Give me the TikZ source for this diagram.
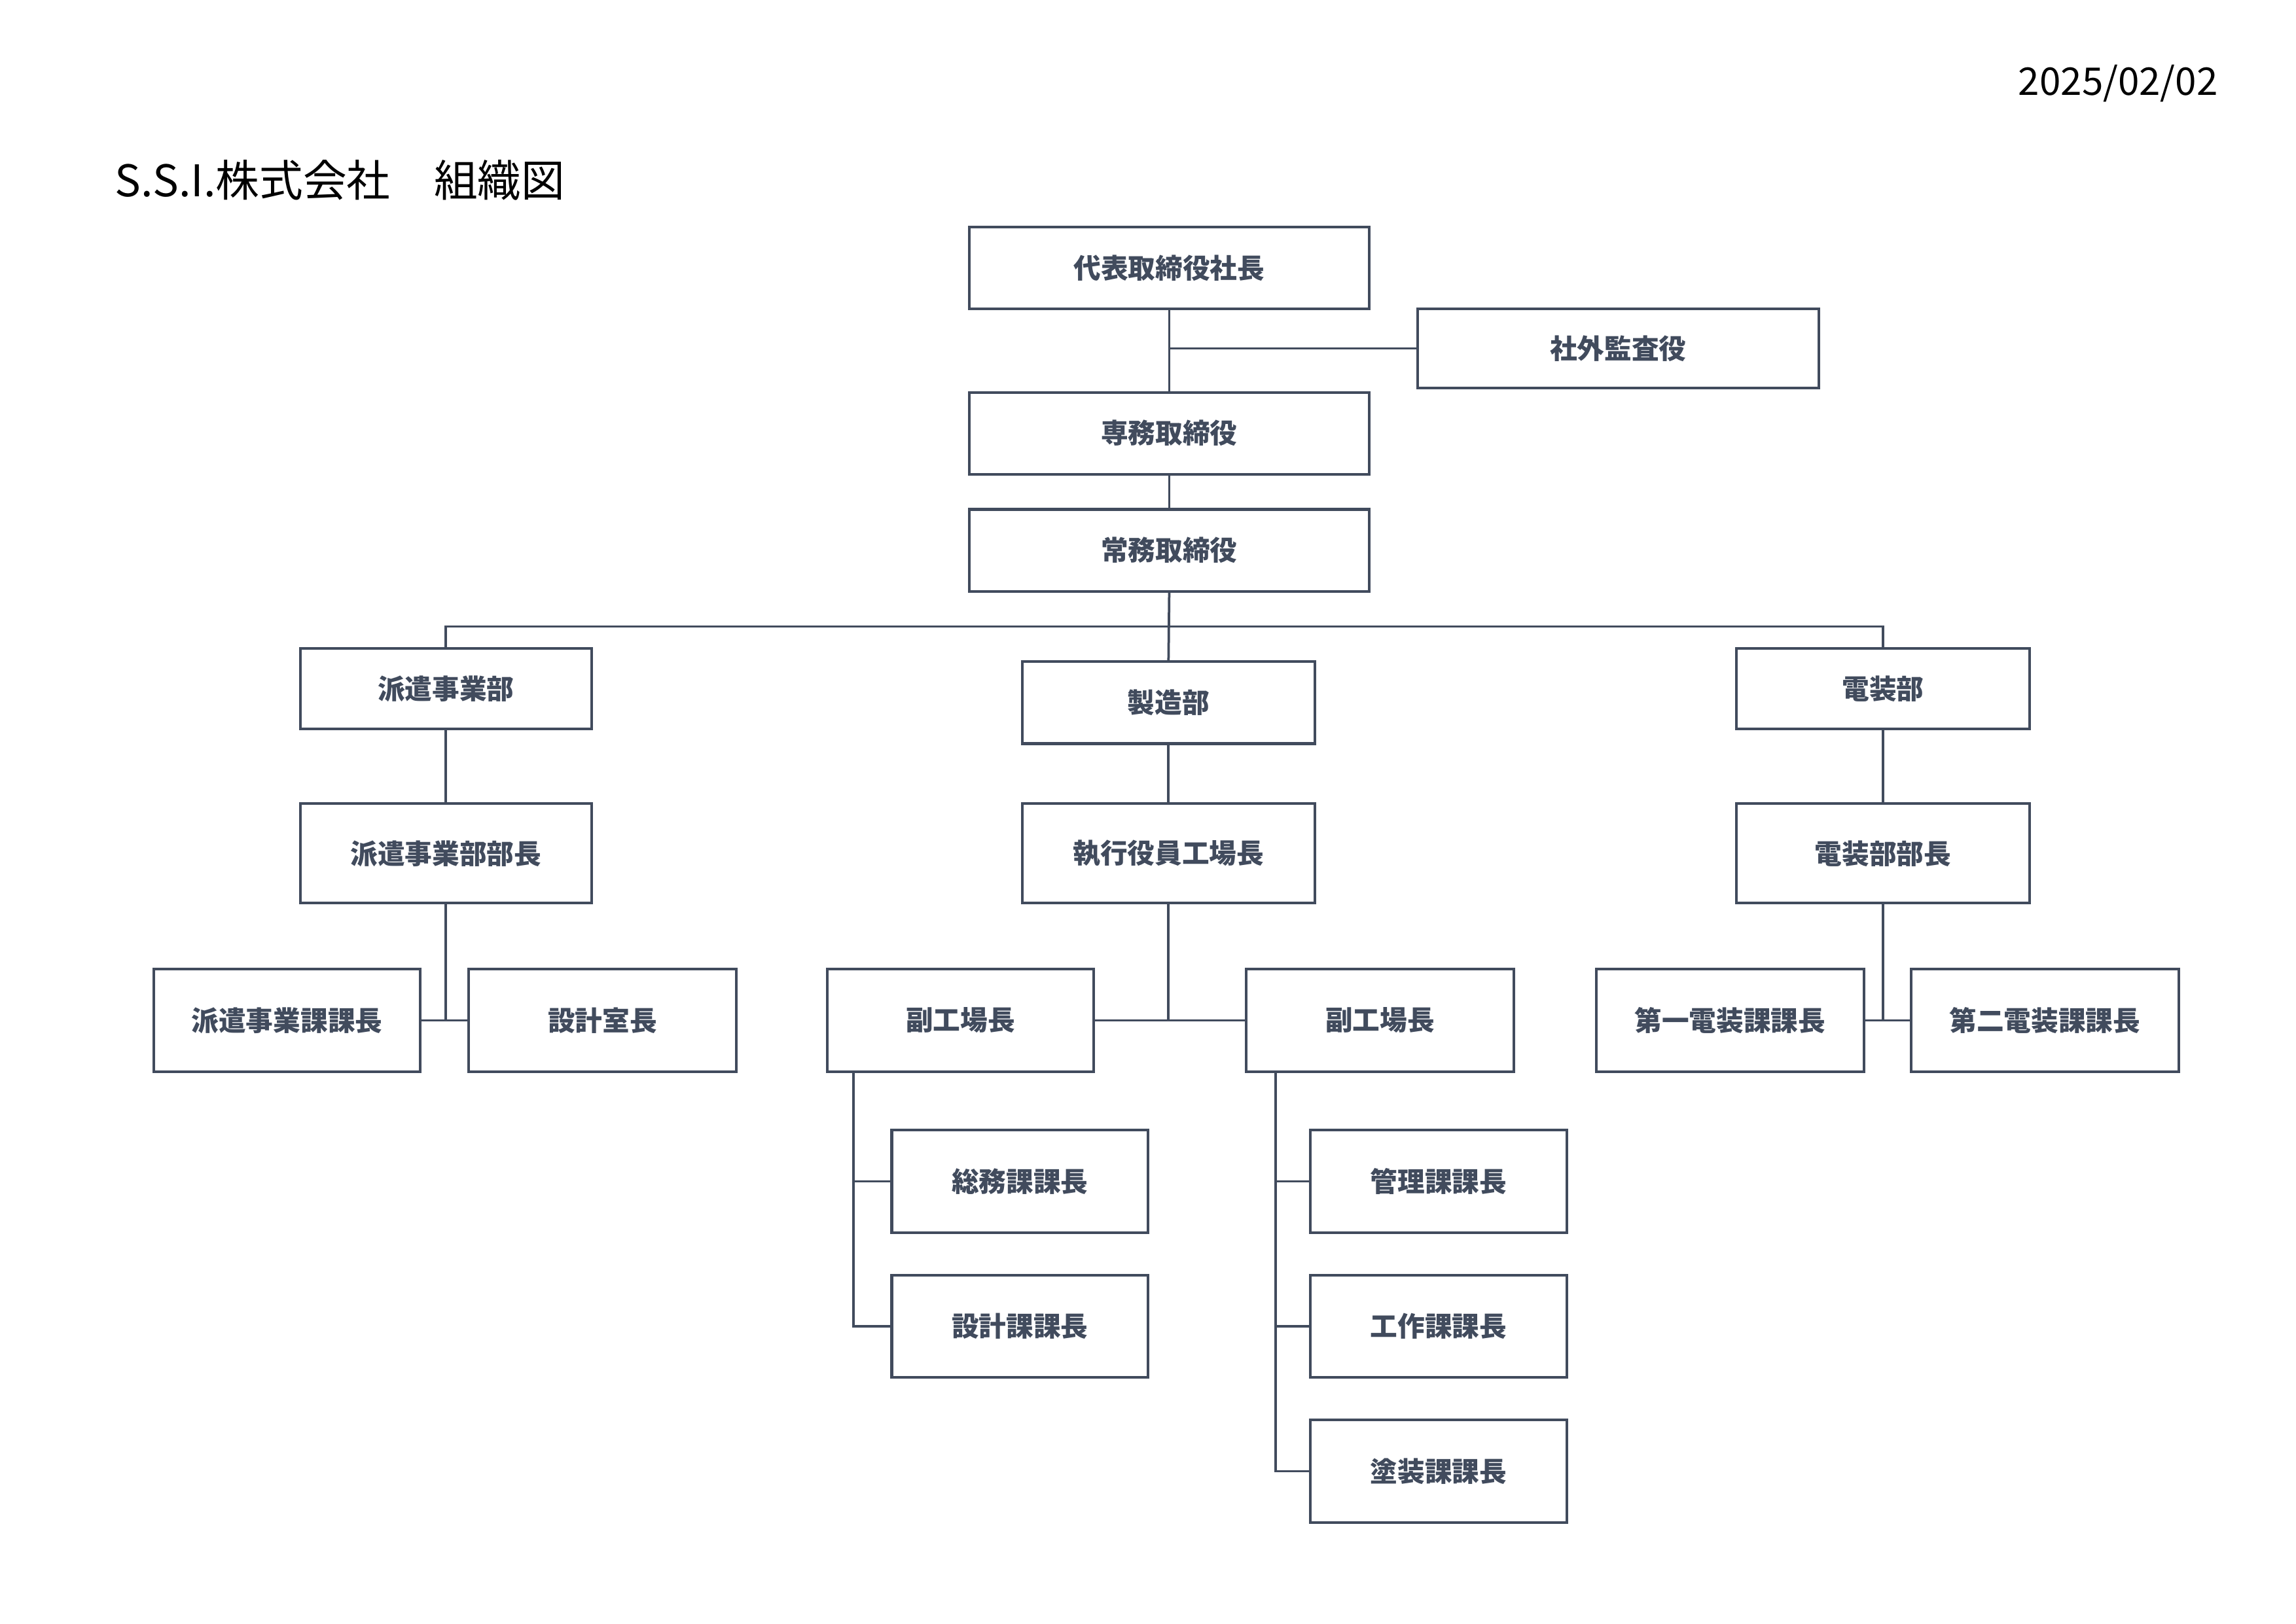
\documentclass[tikz,border=0pt]{standalone}
\usepackage{fontspec}
\setmainfont{Noto Sans CJK JP}
\usetikzlibrary{positioning}
\definecolor{ink}{HTML}{414B5D}
\begin{document}
\begin{tikzpicture}[x=0.53693pt,y=-0.53693pt,
  box/.style={draw=ink,line width=1pt,fill=white,text=ink,font=\fontsize{10}{12}\selectfont\bfseries,inner sep=0pt,align=center},
  b56/.style={box,minimum height=56*0.53693pt},
  b68/.style={box,minimum height=68*0.53693pt},
  b70/.style={box,minimum height=70*0.53693pt},
  wl/.style={minimum width=#1*0.53693pt},
  link/.style={draw=ink,line width=0.9pt}]
\useasboundingbox (0,0) rectangle (1568,1109);
% texts
\node[anchor=east,text=black,font=\fontsize{14}{16}\selectfont,inner sep=0pt] (date) at (1515,57) {2025/02/02};
\node[anchor=west,text=black,font=\fontsize{16}{18}\selectfont,inner sep=0pt] (title) at (78,123) {S.S.I.株式会社\hspace{1em}組織図};
% boxes
\node[b56,wl=273] (pres) at (798.5,183) {代表取締役社長};
\node[box,wl=274,minimum height=54*0.53693pt] (audit) at (1105,238) {社外監査役};
\node[b56,wl=273] (senmu) at (798.5,296) {専務取締役};
\node[b56,wl=273] (jomu) at (798.5,376) {常務取締役};
\node[box,wl=199,minimum height=55*0.53693pt] (haken) at (304.5,470.5) {派遣事業部};
\node[b56,wl=200] (seizo) at (798,480) {製造部};
\node[box,wl=200,minimum height=55*0.53693pt] (denso) at (1286,470.5) {電装部};
\node[b68,wl=199] (hakenbu) at (304.5,583) {派遣事業部部長};
\node[b68,wl=200] (kojo) at (798,583) {執行役員工場長};
\node[b68,wl=200] (densobu) at (1286,583) {電装部部長};
\node[b70,wl=182] (hakenka) at (196,697) {派遣事業課課長};
\node[b70,wl=183] (sekkeishitsu) at (411.5,697) {設計室長};
\node[b70,wl=182] (fuku1) at (656,697) {副工場長};
\node[b70,wl=183] (fuku2) at (942.5,697) {副工場長};
\node[b70,wl=183] (denso1) at (1181.5,697) {第一電装課課長};
\node[b70,wl=183] (denso2) at (1396.5,697) {第二電装課課長};
\node[b70,wl=175] (somu) at (696.5,807) {総務課課長};
\node[b70,wl=175] (sekkeika) at (696.5,906) {設計課課長};
\node[b70,wl=175] (kanri) at (982.5,807) {管理課課長};
\node[b70,wl=175] (kosaku) at (982.5,906) {工作課課長};
\node[b70,wl=175] (toso) at (982.5,1005) {塗装課課長};
% coordinates
\coordinate (bus) at (798.5,428);
\coordinate (br1) at (583,732);
\coordinate (br2) at (871,732);
% connectors
\draw[link] (pres.south) -- (senmu.north);
\draw[link] (pres.south |- audit.west) -- (audit.west);
\draw[link] (senmu.south) -- (jomu.north);
\draw[link] (jomu.south) -- (seizo.north);
\draw[link] (haken.north) |- (bus) -| (denso.north);
\draw[link] (haken.south) -- (hakenbu.north);
\draw[link] (seizo.south) -- (kojo.north);
\draw[link] (denso.south) -- (densobu.north);
\draw[link] (hakenbu.south) -- (hakenbu.south |- hakenka.east);
\draw[link] (hakenka.east) -- (sekkeishitsu.west);
\draw[link] (kojo.south) -- (kojo.south |- fuku1.east);
\draw[link] (fuku1.east) -- (fuku2.west);
\draw[link] (densobu.south) -- (densobu.south |- denso1.east);
\draw[link] (denso1.east) -- (denso2.west);
\draw[link] (br1) |- (sekkeika.west);
\draw[link] (br1 |- somu.west) -- (somu.west);
\draw[link] (br2) |- (toso.west);
\draw[link] (br2 |- kanri.west) -- (kanri.west);
\draw[link] (br2 |- kosaku.west) -- (kosaku.west);
\end{tikzpicture}
\end{document}
